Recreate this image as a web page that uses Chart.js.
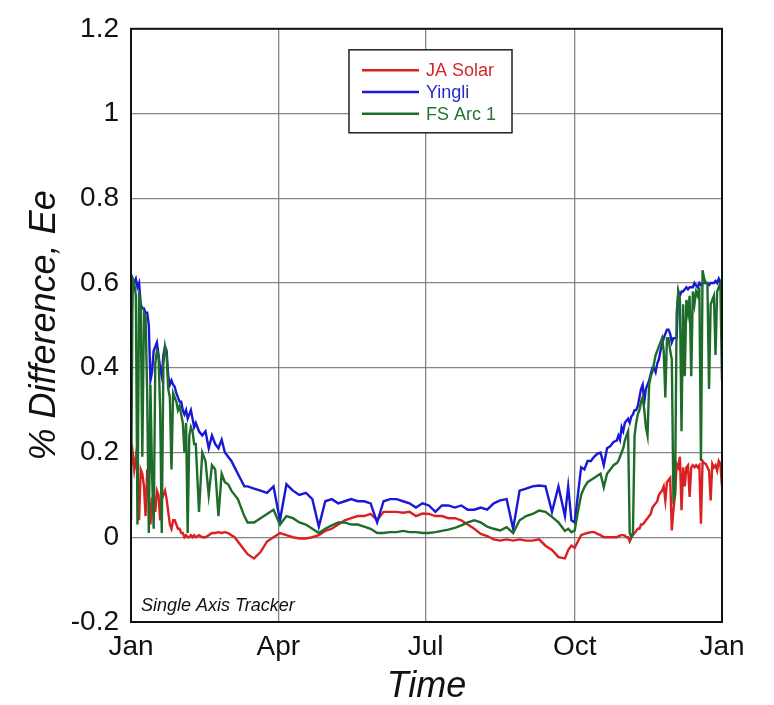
<!DOCTYPE html>
<html>
<head>
<meta charset="utf-8">
<title>% Difference, Ee</title>
<script src="https://cdn.jsdelivr.net/npm/chart.js@4.4.0/dist/chart.umd.min.js"></script>
<style>
	html, body { margin: 0; padding: 0; background: #fff; }
	#chart-wrap { width: 774px; height: 705px; }
</style>
</head>
<body>
<div id="chart-wrap"><canvas id="chart-ee" width="774" height="705"></canvas></div>
<script>
/* day of year, daily at the noisy ends, sparser in summer */
var days = [
	0, 1, 2, 3, 4, 5, 6, 7, 8, 9,
	10, 11, 12, 13, 14, 15, 16, 17, 18, 19,
	20, 21, 22, 23, 24, 25, 26, 27, 28, 29,
	30, 31, 32, 33, 34, 35, 36, 37, 38, 39,
	40, 42, 44, 46, 48, 50, 52, 54, 56, 58,
	60, 62, 64, 66, 68, 70, 72, 76, 80, 84,
	88, 92, 96, 100, 104, 108, 112, 116, 120, 124,
	128, 132, 136, 140, 144, 148, 152, 156, 160, 164,
	168, 172, 176, 180, 184, 188, 192, 196, 200, 204,
	208, 212, 216, 220, 224, 228, 232, 236, 240, 244,
	248, 252, 256, 260, 264, 268, 270, 272, 274, 276,
	278, 280, 282, 284, 286, 288, 290, 292, 294, 296,
	298, 300, 301, 302, 303, 304, 305, 306, 307, 308,
	309, 310, 311, 312, 313, 314, 315, 316, 317, 318,
	319, 320, 321, 322, 323, 324, 325, 326, 327, 328,
	329, 330, 331, 332, 333, 334, 335, 336, 337, 338,
	339, 340, 341, 342, 343, 344, 345, 346, 347, 348,
	349, 350, 351, 352, 353, 354, 355, 356, 357, 358,
	359, 360, 361, 362, 363, 364, 365
];

var ja_solar = [
	0.17, 0.2, 0.16, 0.19, 0.15, 0.04, 0.16, 0.15, 0.12, 0.05,
	0.16, 0.1, 0.03, 0.09, 0.1, 0.06, 0.11, 0.1, 0.04, 0.09,
	0.1, 0.11, 0.09, 0.06, 0.03, 0.02, 0.04, 0.04, 0.03, 0.02,
	0.02, 0.01, 0.01, 0.0, 0.005, 0.0, 0.0, 0.005, 0.0, 0.005,
	0.0, 0.005, 0.0, 0.0, 0.005, 0.01, 0.01, 0.012, 0.01, 0.012,
	0.01, 0.005, 0.0, -0.01, -0.02, -0.03, -0.04, -0.05, -0.035, -0.01,
	0.0, 0.01, 0.005, 0.0, -0.003, -0.003, 0.0, 0.005, 0.015, 0.02,
	0.03, 0.04, 0.045, 0.05, 0.05, 0.055, 0.04, 0.06, 0.06, 0.06,
	0.058, 0.06, 0.05, 0.056, 0.055, 0.05, 0.05, 0.045, 0.045, 0.04,
	0.03, 0.02, 0.008, 0.003, -0.005, -0.008, -0.005, -0.008, -0.005, -0.008,
	-0.008, -0.005, -0.02, -0.03, -0.047, -0.05, -0.03, -0.02, -0.025, -0.01,
	0.005, 0.008, 0.01, 0.012, 0.012, 0.008, 0.005, 0.0, 0.0, 0.0,
	0.0, 0.0, 0.002, 0.004, 0.005, 0.005, 0.004, 0.0, 0.0, -0.01,
	0.0, 0.005, 0.01, 0.015, 0.02, 0.02, 0.03, 0.03, 0.035, 0.04,
	0.045, 0.05, 0.055, 0.07, 0.075, 0.08, 0.085, 0.1, 0.105, 0.11,
	0.12, 0.087, 0.13, 0.135, 0.14, 0.016, 0.064, 0.1, 0.173, 0.165,
	0.19, 0.064, 0.165, 0.12, 0.165, 0.17, 0.095, 0.165, 0.17, 0.165,
	0.17, 0.165, 0.17, 0.032, 0.18, 0.175, 0.173, 0.165, 0.157, 0.087,
	0.173, 0.165, 0.17, 0.157, 0.18, 0.173, 0.12
];

var yingli = [
	0.45, 0.61, 0.6, 0.61, 0.59, 0.6, 0.55, 0.54, 0.54, 0.53,
	0.53, 0.5, 0.37, 0.39, 0.44, 0.45, 0.46, 0.43, 0.4, 0.38,
	0.43, 0.45, 0.44, 0.38, 0.36, 0.37, 0.36, 0.355, 0.34, 0.33,
	0.32, 0.32, 0.3, 0.29, 0.3, 0.28, 0.29, 0.3, 0.28, 0.26,
	0.27, 0.25, 0.24, 0.25, 0.21, 0.24, 0.22, 0.21, 0.23, 0.2,
	0.19, 0.18, 0.165, 0.15, 0.135, 0.12, 0.12, 0.115, 0.11, 0.105,
	0.12, 0.04, 0.125, 0.11, 0.1, 0.105, 0.09, 0.025, 0.085, 0.09,
	0.08, 0.085, 0.09, 0.085, 0.085, 0.08, 0.035, 0.085, 0.09, 0.09,
	0.085, 0.08, 0.07, 0.08, 0.075, 0.06, 0.075, 0.075, 0.07, 0.075,
	0.065, 0.065, 0.07, 0.065, 0.08, 0.087, 0.09, 0.02, 0.11, 0.115,
	0.12, 0.122, 0.12, 0.06, 0.12, 0.05, 0.12, 0.04, 0.035, 0.1,
	0.165, 0.16, 0.18, 0.18, 0.19, 0.197, 0.2, 0.17, 0.21, 0.215,
	0.225, 0.228, 0.24, 0.23, 0.26, 0.25, 0.27, 0.275, 0.28, 0.27,
	0.285, 0.29, 0.3, 0.3, 0.31, 0.33, 0.35, 0.36, 0.32, 0.35,
	0.36, 0.37, 0.385, 0.4, 0.4, 0.39, 0.41, 0.42, 0.44, 0.455,
	0.47, 0.48, 0.49, 0.49, 0.48, 0.46, 0.47, 0.47, 0.47, 0.58,
	0.57, 0.58, 0.58, 0.585, 0.59, 0.585, 0.59, 0.59, 0.59, 0.6,
	0.595, 0.59, 0.6, 0.595, 0.6, 0.6, 0.6, 0.6, 0.595, 0.6,
	0.6, 0.6, 0.605, 0.6, 0.61, 0.6, 0.6
];

var fs_arc1 = [
	0.04, 0.61, 0.6, 0.57, 0.03, 0.58, 0.54, 0.19, 0.53, 0.52,
	0.34, 0.01, 0.36, 0.15, 0.02, 0.41, 0.44, 0.43, 0.3, 0.01,
	0.41, 0.45, 0.43, 0.35, 0.33, 0.16, 0.34, 0.33, 0.32, 0.3,
	0.31, 0.29, 0.27, 0.2, 0.27, 0.01, 0.24, 0.26, 0.25, 0.22,
	0.22, 0.06, 0.2, 0.18, 0.1, 0.17, 0.16, 0.05, 0.15, 0.13,
	0.125, 0.11, 0.1, 0.09, 0.07, 0.05, 0.035, 0.035, 0.045, 0.055,
	0.065, 0.03, 0.05, 0.045, 0.035, 0.03, 0.02, 0.01, 0.02, 0.028,
	0.035, 0.035, 0.03, 0.03, 0.025, 0.02, 0.01, 0.01, 0.012, 0.012,
	0.015, 0.012, 0.012, 0.01, 0.01, 0.012, 0.015, 0.018, 0.022, 0.028,
	0.035, 0.04, 0.035, 0.025, 0.02, 0.016, 0.024, 0.01, 0.04, 0.05,
	0.055, 0.063, 0.06, 0.048, 0.035, 0.015, 0.02, 0.012, 0.016, 0.06,
	0.1, 0.118, 0.13, 0.135, 0.14, 0.145, 0.15, 0.118, 0.15, 0.16,
	0.17, 0.175, 0.18, 0.19, 0.2, 0.21, 0.228, 0.24, 0.25, 0.01,
	0.0, 0.01, 0.24, 0.27, 0.29, 0.3, 0.32, 0.33, 0.3, 0.26,
	0.24, 0.36, 0.38, 0.39, 0.41, 0.43, 0.44, 0.45, 0.46, 0.47,
	0.44, 0.33, 0.47, 0.47, 0.44, 0.42, 0.09, 0.1, 0.53, 0.58,
	0.56, 0.25, 0.55, 0.38, 0.56, 0.53, 0.57, 0.38, 0.58, 0.55,
	0.58, 0.57, 0.59, 0.18, 0.63, 0.61, 0.6, 0.6, 0.35, 0.55,
	0.56, 0.57, 0.43, 0.58, 0.59, 0.6, 0.37
];

var month_ticks = [0, 91, 182, 274, 365];
var month_labels = ['Jan', 'Apr', 'Jul', 'Oct', 'Jan'];
var series_labels = ['JA Solar', 'Yingli', 'FS Arc 1'];
var note_text = 'Single Axis Tracker';

var FONT = '"Liberation Sans", Arial, Helvetica, sans-serif';

function to_points(values) {
	var pts = [];
	for (var i = 0; i < days.length; i++) {
		pts.push({x: days[i], y: values[i]});
	}
	return pts;
}

/* frame, note and the boxed legend inside the plot */
var frame_plugin = {
	id: 'frame_plugin',
	afterDraw: function (chart) {
		var a = chart.chartArea;
		var ctx = chart.ctx;
		ctx.save();
		ctx.strokeStyle = '#111';
		ctx.lineWidth = 2;
		ctx.strokeRect(a.left, a.top, a.right - a.left, a.bottom - a.top);

		ctx.font = 'italic 18px ' + FONT;
		ctx.fillStyle = '#111';
		ctx.textAlign = 'left';
		ctx.textBaseline = 'alphabetic';
		ctx.fillText(note_text, a.left + 10, a.bottom - 11);

		var bx = a.left + 218, by = a.top + 21, bw = 163, bh = 83;
		ctx.fillStyle = '#fff';
		ctx.fillRect(bx, by, bw, bh);
		ctx.lineWidth = 1.5;
		ctx.strokeStyle = '#222';
		ctx.strokeRect(bx, by, bw, bh);

		ctx.font = '18px ' + FONT;
		ctx.textBaseline = 'middle';
		chart.data.datasets.forEach(function (ds, i) {
			var ly = by + 20.5 + i * 21.7;
			ctx.strokeStyle = ds.borderColor;
			ctx.lineWidth = 2.4;
			ctx.beginPath();
			ctx.moveTo(bx + 13, ly);
			ctx.lineTo(bx + 70, ly);
			ctx.stroke();
			ctx.fillStyle = ds.labelColor;
			ctx.fillText(ds.label, bx + 77, ly + 1);
		});
		ctx.restore();
	}
};

var ctx_ee = document.getElementById('chart-ee').getContext('2d');
new Chart(ctx_ee, {
	type: 'line',
	data: {
		datasets: [{
			label: series_labels[0],
			data: to_points(ja_solar),
			borderColor: 'rgb(218, 32, 32)',
			labelColor: 'rgb(212, 40, 40)',
			order: 3
		}, {
			label: series_labels[1],
			data: to_points(yingli),
			borderColor: 'rgb(24, 24, 214)',
			labelColor: 'rgb(36, 44, 200)',
			order: 2
		}, {
			label: series_labels[2],
			data: to_points(fs_arc1),
			borderColor: 'rgb(30, 108, 42)',
			labelColor: 'rgb(38, 116, 52)',
			order: 1
		}]
	},
	options: {
		responsive: false,
		animation: false,
		devicePixelRatio: 1,
		layout: {
			padding: {top: 26, right: 52, left: 0, bottom: 0}
		},
		elements: {
			point: {radius: 0},
			line: {borderWidth: 2.4, tension: 0, fill: false}
		},
		plugins: {
			legend: {display: false},
			tooltip: {enabled: false}
		},
		scales: {
			x: {
				type: 'linear',
				min: 0,
				max: 365,
				afterBuildTicks: function (axis) {
					axis.ticks = month_ticks.map(function (v) { return {value: v}; });
				},
				afterFit: function (axis) {
					axis.height = 83;
				},
				ticks: {
					autoSkip: false,
					maxRotation: 0,
					padding: 8,
					color: '#111',
					font: {family: FONT, size: 28},
					callback: function (value, index) {
						return month_labels[index];
					}
				},
				grid: {
					color: 'rgba(120, 120, 120, 0.9)',
					lineWidth: 1.3,
					drawTicks: false
				},
				border: {display: false},
				title: {
					display: true,
					text: 'Time',
					color: '#111',
					padding: {top: 0, bottom: 0},
					font: {family: FONT, size: 36, style: 'italic', lineHeight: 1}
				}
			},
			y: {
				min: -0.2,
				max: 1.2,
				afterFit: function (axis) {
					axis.width = 131;
				},
				ticks: {
					stepSize: 0.2,
					padding: 12,
					color: '#111',
					font: {family: FONT, size: 28},
					callback: function (value) {
						return String(+value.toFixed(1));
					}
				},
				grid: {
					color: 'rgba(120, 120, 120, 0.9)',
					lineWidth: 1.3,
					drawTicks: false
				},
				border: {display: false},
				title: {
					display: true,
					text: '% Difference, Ee',
					color: '#111',
					padding: {top: 27, bottom: 0},
					font: {family: FONT, size: 36, style: 'italic', lineHeight: 1}
				}
			}
		}
	},
	plugins: [frame_plugin]
});
</script>
</body>
</html>
